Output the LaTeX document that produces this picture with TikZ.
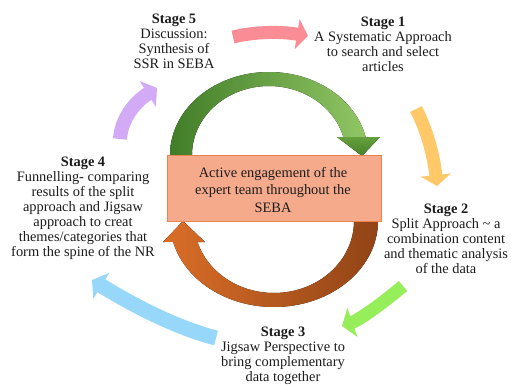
\documentclass[tikz,border=0pt]{standalone}
\usepackage{fontspec}
\setmainfont{Liberation Serif}
\usetikzlibrary{arrows.meta}
\definecolor{txt}{RGB}{28,28,28}
\definecolor{pinkA}{RGB}{250,140,150}
\definecolor{yelA}{RGB}{255,200,105}
\definecolor{limeA}{RGB}{150,238,90}
\definecolor{blueA}{RGB}{150,215,250}
\definecolor{purA}{RGB}{210,170,245}
\definecolor{gDark}{RGB}{65,125,40}
\definecolor{gMid}{RGB}{100,160,60}
\definecolor{gLight}{RGB}{145,198,100}
\definecolor{gHead}{RGB}{70,130,40}
\definecolor{oLeft}{RGB}{218,110,40}
\definecolor{oMid}{RGB}{238,165,125}
\definecolor{oRight}{RGB}{145,68,22}
\definecolor{boxFill}{RGB}{245,170,140}
\definecolor{boxLine}{RGB}{236,130,80}
\begin{document}
\begin{tikzpicture}[x=1pt,y=-1pt,
  lbl/.style={align=center, inner sep=0pt, text=txt, font=\fontsize{14.4}{15}\selectfont},
  ringarrow/.style={line width=13pt, -{Triangle[length=11pt,width=30pt]}}]
\useasboundingbox (0,0) rectangle (511,385);
\fill[white] (0,0) rectangle (511,385);

% ---- central green arc (upper) ----
\fill[left color=gDark, middle color=gMid, right color=gLight]
  plot[domain=175:347.5, samples=80, variable=\t] ({269+99*cos(\t)},{155+83*sin(\t)})
  -- plot[domain=344.9:175, samples=80, variable=\t] ({269+77*cos(\t)},{155+69*sin(\t)})
  -- cycle;
\fill[top color=gMid, bottom color=gHead] (337,137) -- (380,137) -- (362,156) -- cycle;

% ---- central orange arc (lower) ----
\fill[left color=oLeft, middle color=oMid, right color=oRight]
  plot[domain=-5:165.87, samples=80, variable=\t] ({274+104*cos(\t)},{221+86*sin(\t)})
  -- (163,242) -- (183,221) -- (205,242)
  -- plot[domain=163.04:-5, samples=80, variable=\t] ({274+80*cos(\t)},{221+72*sin(\t)})
  -- cycle;

% ---- central box ----
\node[draw=boxLine, line width=1pt, fill=boxFill, minimum width=214pt, minimum height=66pt,
      inner sep=0pt] (core) at (274,188) {};
\node[align=center, inner sep=0pt, text=txt, font=\fontsize{14.4}{17.5}\selectfont] (coretext) at (273,189.5)
  {Active engagement of the\\expert team throughout the\\SEBA};

% ---- stage labels ----
\node[lbl] (s5) at (174,41.5) {\textbf{Stage 5}\\Discussion:\\Synthesis of\\SSR in SEBA};
\node[lbl] (s1) at (383,44.5) {\textbf{Stage 1}\\A Systematic Approach\\to search and select\\articles};
\node[lbl] (s2) at (446,239) {\textbf{Stage 2}\\Split Approach \textasciitilde\ a\\combination content\\and thematic analysis\\of the data};
\node[lbl] (s3) at (283,356) {\textbf{Stage 3}\\Jigsaw Perspective to\\bring complementary\\data together};
\node[lbl] (s4) at (83,208.5) {\textbf{Stage 4}\\Funnelling- comparing\\results of the split\\approach and Jigsaw\\approach to creat\\themes/categories that\\form the spine of the NR};

% ---- ring arrow end points ----
\coordinate (p5s) at (233,37);  \coordinate (p5e) at (308,36);
\coordinate (p1s) at (416,109); \coordinate (p1e) at (437,186);
\coordinate (p2s) at (403,286); \coordinate (p2e) at (342,326);
\coordinate (p3s) at (216,338); \coordinate (p3e) at (92,280);
\coordinate (p4s) at (120,139); \coordinate (p4e) at (157,88);

\draw[ringarrow, pinkA] (p5s) .. controls (255,31.7) and (280,31.3) .. (p5e);
\draw[ringarrow, yelA]  (p1s) .. controls (426.7,129.7) and (433.7,155.3) .. (p1e);
\draw[ringarrow, limeA] (p2s) .. controls (377.7,307.3) and (357.3,320.7) .. (p2e);
\draw[ringarrow, blueA, line width=15pt] (p3s) .. controls (182,329.3) and (140.7,310) .. (p3e);
\draw[ringarrow, purA, line width=14pt] (p4s) .. controls (121.3,119.7) and (133.7,102.7) .. (p4e);
\end{tikzpicture}
\end{document}
